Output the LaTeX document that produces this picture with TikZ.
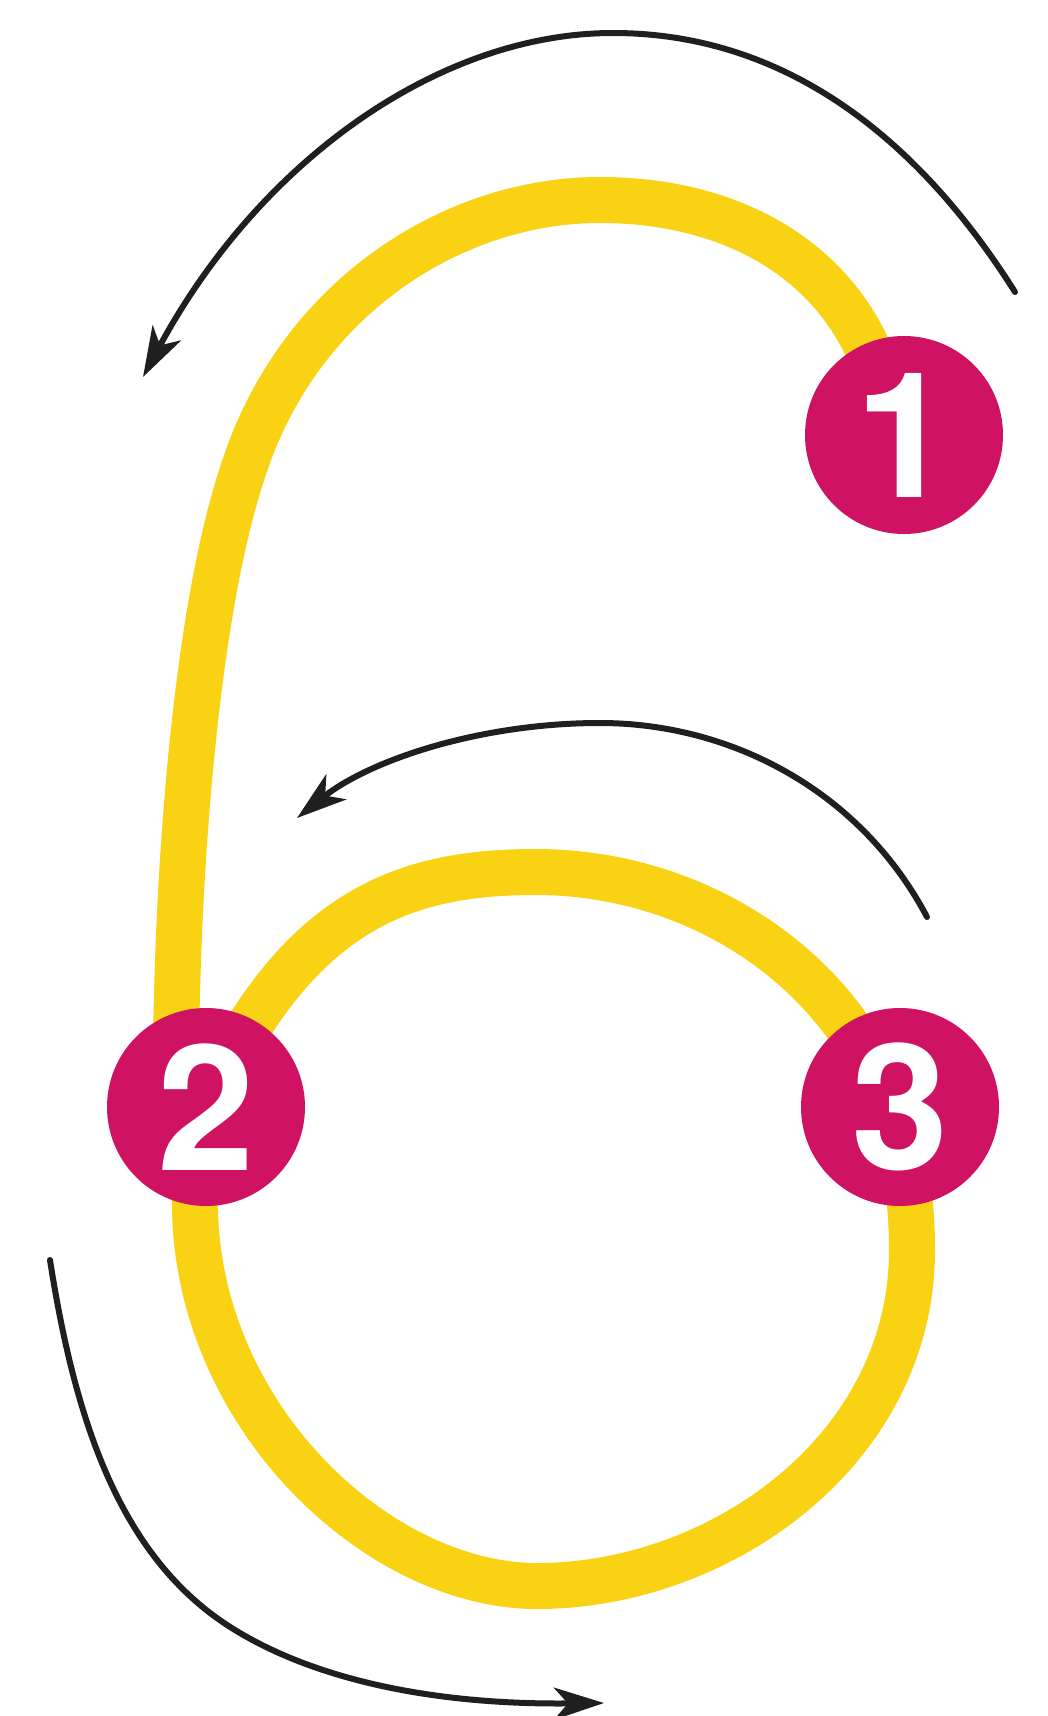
\documentclass[tikz,border=0pt]{standalone}
\usepackage{fontspec}
\newfontfamily\numfont{TeX Gyre Heros}
\usetikzlibrary{arrows.meta}
\definecolor{sixyellow}{RGB}{250,210,20}
\definecolor{dotred}{RGB}{207,18,98}
\begin{document}
\begin{tikzpicture}[x=1pt,y=-1pt,
  stroke6/.style={draw=sixyellow,line width=46pt,line cap=round,line join=round},
  numdot/.style={circle,fill=dotred,minimum size=198pt,inner sep=0pt,text=white,
    font=\numfont\fontsize{175}{175}\selectfont\bfseries},
  guide/.style={draw=black!88,line width=6pt,line cap=round,
    -{Stealth[length=50pt,width=32pt,inset=14pt]}}]
\useasboundingbox (0,0) rectangle (1047,1716);
\fill[white] (0,0) rectangle (1047,1716);
\coordinate (c1) at (904,435);
\coordinate (c2) at (206,1107);
\coordinate (c3) at (900,1107);
% stem of the six
\draw[stroke6] (c1) -- (866,345)
  .. controls (820,250) and (720,200) .. (600,200)
  .. controls (450,200) and (300,300) .. (245,465)
  .. controls (198,600) and (178,850) .. (176,1050);
% loop of the six
\draw[stroke6] (235,1050)
  .. controls (320,900) and (420,872) .. (536,872)
  .. controls (660,872) and (780,930) .. (850,1030)
  .. controls (890,1090) and (912,1160) .. (912,1250)
  .. controls (912,1450) and (720,1586) .. (537,1586)
  .. controls (380,1586) and (200,1420) .. (195,1211)
  .. controls (193,1130) and (210,1090) .. (235,1050) -- cycle;
% numbered dots
\node[numdot] (n1) at (c1) {1};
\node[numdot] (n2) at (c2) {2};
\node[numdot] (n3) at (c3) {3};
% guide arrows
\coordinate (a1s) at (1015,292);
\coordinate (a1t) at (613,33);
\coordinate (a1e) at (143,377);
\draw[guide] (a1s) .. controls (900,110) and (760,33) .. (a1t)
  .. controls (440,33) and (260,160) .. (a1e);
\coordinate (a2s) at (927,917);
\coordinate (a2t) at (600,723);
\coordinate (a2e) at (297,818);
\draw[guide] (a2s) .. controls (860,790) and (730,723) .. (a2t)
  .. controls (480,723) and (370,760) .. (a2e);
\coordinate (a3s) at (50,1260);
\coordinate (a3m) at (235,1630);
\coordinate (a3e) at (604,1703);
\draw[guide] (a3s) .. controls (75,1420) and (120,1560) .. (a3m)
  .. controls (320,1682) and (440,1705) .. (a3e);
\end{tikzpicture}
\end{document}
